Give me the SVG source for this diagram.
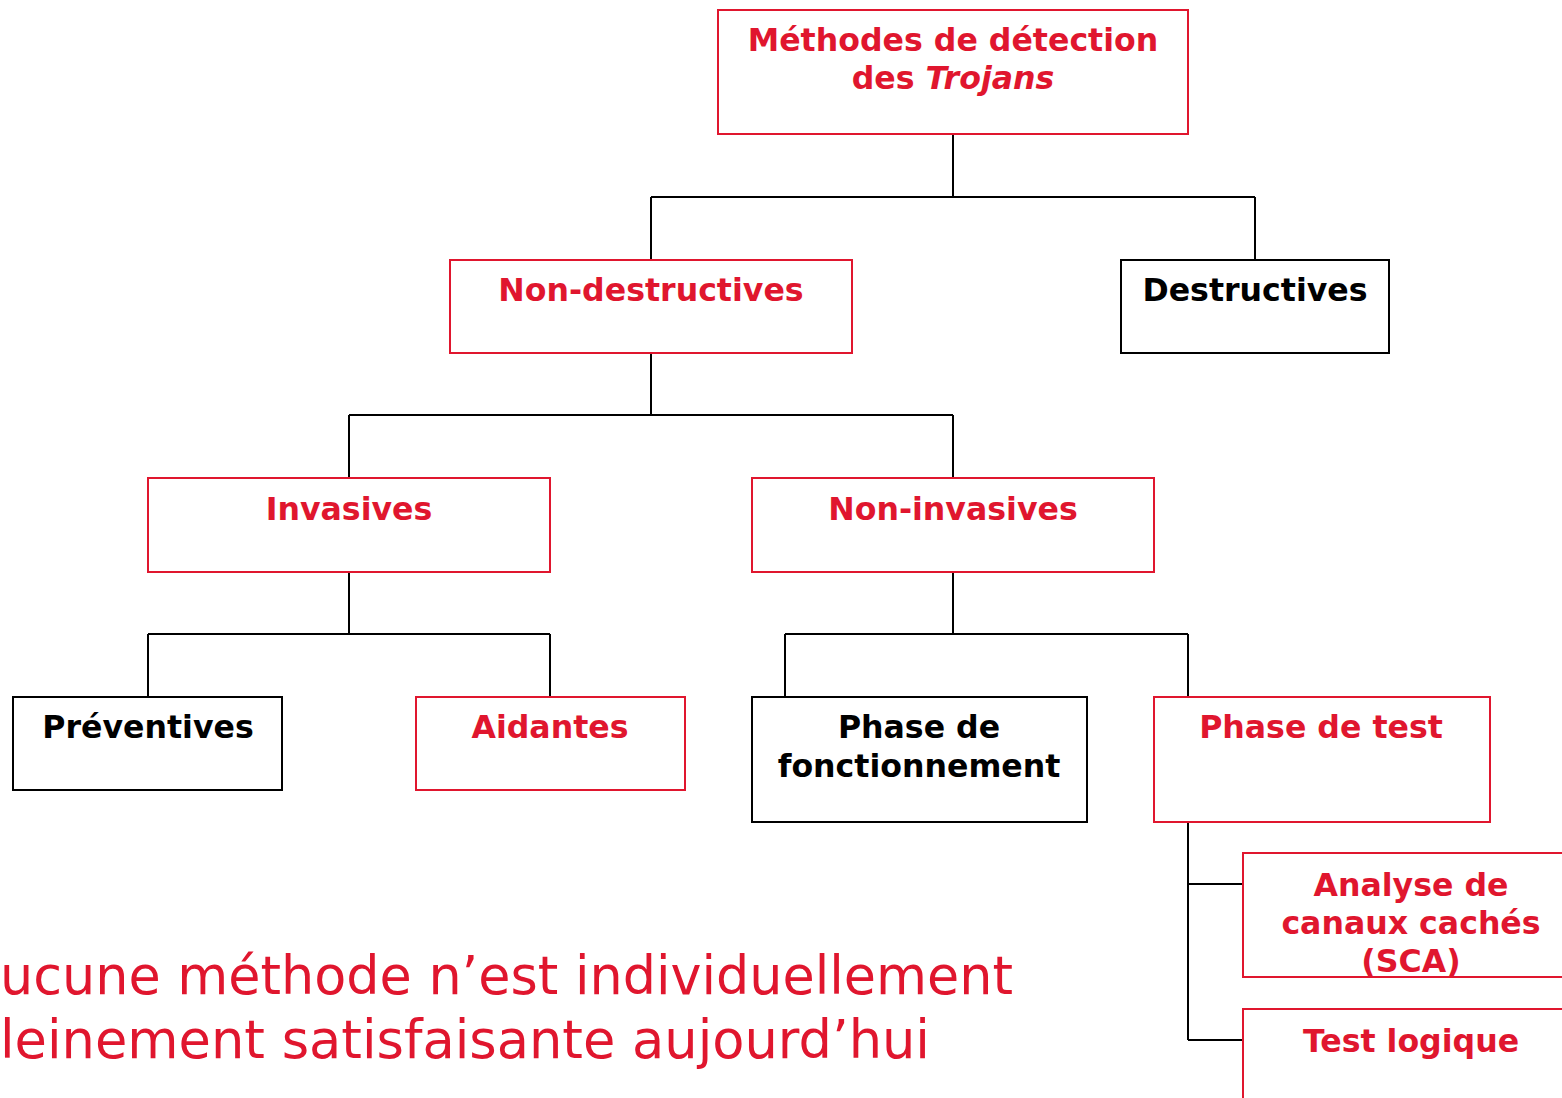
<svg xmlns="http://www.w3.org/2000/svg" width="1562" height="1098" viewBox="0 0 1562 1098">
<style>
.box{fill:#fff;stroke-width:2}
.r{stroke:#E0162E}
.k{stroke:#000}
.t{font-family:"DejaVu Sans","Verdana",sans-serif;font-weight:bold;font-size:31.6px;text-anchor:middle}
.tr{fill:#E0162E}
.tk{fill:#000}
.c{stroke:#000;stroke-width:2;fill:none}
.note{font-family:"DejaVu Sans",Verdana,sans-serif;font-size:54px;fill:#E0162E}
</style>
<rect width="1562" height="1098" fill="#fff"/>
<g id="connectors">
<path class="c" d="M953 134V197M651 197H1255M651 197V260M1255 197V260"/>
<path class="c" d="M651 353V415M349 415H953M349 415V478M953 415V478"/>
<path class="c" d="M349 572V634M148 634H550M148 634V697M550 634V697"/>
<path class="c" d="M953 572V634M785 634H1188M785 634V697M1188 634V697"/>
<path class="c" d="M1188 822V1040M1188 884H1243M1188 1040H1243"/>
</g>
<g id="n-root"><rect class="box r" x="718" y="10" width="470" height="124"/>
<text class="t tr" x="953" y="51">Méthodes de détection</text>
<text class="t tr" x="953" y="89">des <tspan font-style="italic">Trojans</tspan></text></g>
<g id="n-nondestr"><rect class="box r" x="450" y="260" width="402" height="93"/>
<text class="t tr" x="651" y="301">Non-destructives</text></g>
<g id="n-destr"><rect class="box k" x="1121" y="260" width="268" height="93"/>
<text class="t tk" x="1255" y="301">Destructives</text></g>
<g id="n-inv"><rect class="box r" x="148" y="478" width="402" height="94"/>
<text class="t tr" x="349" y="520">Invasives</text></g>
<g id="n-noninv"><rect class="box r" x="752" y="478" width="402" height="94"/>
<text class="t tr" x="953" y="520">Non-invasives</text></g>
<g id="n-prev"><rect class="box k" x="13" y="697" width="269" height="93"/>
<text class="t tk" x="148" y="738">Préventives</text></g>
<g id="n-aid"><rect class="box r" x="416" y="697" width="269" height="93"/>
<text class="t tr" x="550" y="738">Aidantes</text></g>
<g id="n-fonct"><rect class="box k" x="752" y="697" width="335" height="125"/>
<text class="t tk" x="919" y="738">Phase de</text>
<text class="t tk" x="919" y="777">fonctionnement</text></g>
<g id="n-test"><rect class="box r" x="1154" y="697" width="336" height="125"/>
<text class="t tr" x="1321" y="738">Phase de test</text></g>
<g id="n-sca"><rect class="box r" x="1243" y="853" width="336" height="124"/>
<text class="t tr" x="1411" y="896">Analyse de</text>
<text class="t tr" x="1411" y="934">canaux cachés</text>
<text class="t tr" x="1411" y="972">(SCA)</text></g>
<g id="n-logic"><rect class="box r" x="1243" y="1009" width="336" height="124"/>
<text class="t tr" x="1411" y="1052">Test logique</text></g>
<text class="note" x="0" y="994" textLength="1013" lengthAdjust="spacingAndGlyphs">ucune méthode n’est individuellement</text>
<text class="note" x="0" y="1058" textLength="930" lengthAdjust="spacingAndGlyphs">leinement satisfaisante aujourd’hui</text>
</svg>
